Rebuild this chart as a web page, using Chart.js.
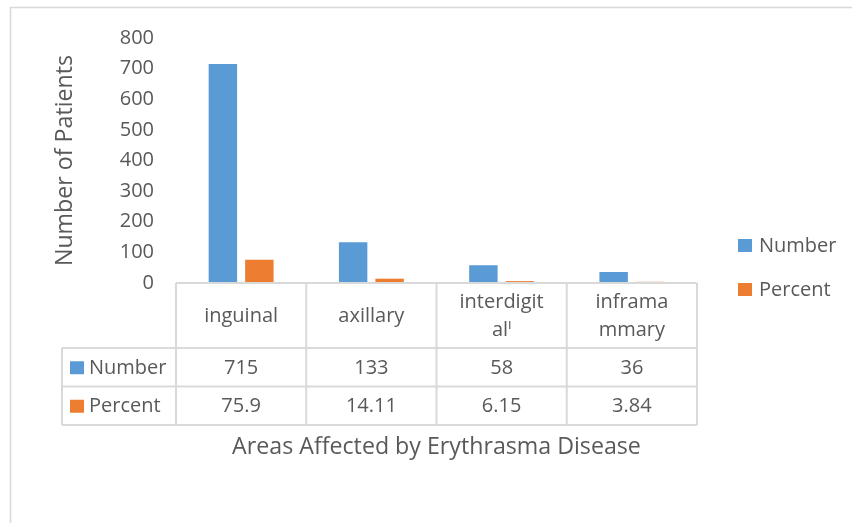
<!DOCTYPE html>
<html>
<head>
<meta charset="utf-8">
<script src="https://cdn.jsdelivr.net/npm/chart.js@4/dist/chart.umd.min.js"></script>
<style>
  html, body { margin: 0; padding: 0; background: #ffffff; }
  #wrap { width: 852px; height: 523px; position: relative; }
</style>
</head>
<body>
<div id="wrap"><canvas id="c"></canvas></div>
<script>
// ---- data ----
const categories = [["inguinal"], ["axillary"], ["interdigit", "al\u02E1"], ["inframa", "mmary"]];
const seriesNames = ["Number", "Percent"];
const numberValues = [715, 133, 58, 36];
const percentValues = [75.9, 14.11, 6.15, 3.84];
const yTicks = { min: 0, max: 800, step: 100 };
const axisTitles = { x: "Areas Affected by Erythrasma Disease", y: "Number of Patients" };

// ---- styles ----
const FONT = "'Open Sans', 'DejaVu Sans', sans-serif";
const TEXT = "#595959";
const LINE = "#d9d9d9";
const colors = ["#5b9bd5", "#ed7d31"];

const tablePlugin = {
  id: 'tablePlugin',
  beforeDraw(chart) {
    const ctx = chart.ctx;
    ctx.save();
    ctx.fillStyle = '#ffffff';
    ctx.fillRect(0, 0, chart.width, chart.height);
    ctx.strokeStyle = LINE;
    ctx.lineWidth = 1.5;
    ctx.strokeRect(10.5, 7.5, chart.width + 20, chart.height + 20);
    ctx.restore();
  },
  afterDraw(chart) {
    const ctx = chart.ctx;
    const area = chart.chartArea;
    const x = chart.scales.x;
    const n = chart.data.labels.length;
    const top = area.bottom;
    const rowTop = top + 65;
    const rowH = 38.5;
    const bottom = rowTop + rowH * 2;
    const leftCol = 62;
    const edges = [];
    for (let i = 0; i <= n; i++) edges.push(area.left + (area.right - area.left) * i / n);

    ctx.save();
    ctx.strokeStyle = LINE;
    ctx.lineWidth = 2;
    ctx.beginPath();
    ctx.moveTo(area.left, top); ctx.lineTo(area.right, top);
    [rowTop, rowTop + rowH, bottom].forEach(yy => { ctx.moveTo(leftCol, yy); ctx.lineTo(area.right, yy); });
    edges.forEach(ex => { ctx.moveTo(ex, top); ctx.lineTo(ex, bottom); });
    ctx.moveTo(leftCol, rowTop); ctx.lineTo(leftCol, bottom);
    ctx.stroke();

    ctx.font = "20px " + FONT;
    ctx.textBaseline = 'middle';
    chart.data.datasets.forEach((ds, di) => {
      const cy = rowTop + rowH * di + rowH / 2 + 1;
      ctx.fillStyle = ds.backgroundColor;
      ctx.fillRect(70, cy - 7, 14, 13);
      ctx.fillStyle = TEXT;
      ctx.textAlign = 'left';
      ctx.fillText(ds.label, 89, cy);
      ctx.textAlign = 'center';
      ds.data.forEach((v, i) => {
        ctx.fillText(String(v), x.getPixelForValue(i), cy);
      });
    });

    // legend on the right
    const lx = area.right + 41;
    const ly = [246, 290];
    chart.data.datasets.forEach((ds, di) => {
      ctx.fillStyle = ds.backgroundColor;
      ctx.fillRect(lx, ly[di] - 7, 14, 13);
      ctx.fillStyle = TEXT;
      ctx.textAlign = 'left';
      ctx.fillText(ds.label, lx + 21, ly[di]);
    });
    ctx.restore();
  }
};

new Chart(document.getElementById('c'), {
  type: 'bar',
  data: {
    labels: categories,
    datasets: [
      { label: seriesNames[0], data: numberValues, backgroundColor: colors[0] },
      { label: seriesNames[1], data: percentValues, backgroundColor: colors[1] }
    ]
  },
  options: {
    responsive: true,
    maintainAspectRatio: false,
    animation: false,
    devicePixelRatio: 1,
    categoryPercentage: 0.56,
    barPercentage: 0.78,
    layout: { padding: { left: 0, right: 155, top: 38, bottom: 62 } },
    plugins: { legend: { display: false }, tooltip: { enabled: false } },
    scales: {
      x: {
        grid: { display: false, drawTicks: false },
        border: { display: false },
        ticks: {
          color: TEXT, font: { family: FONT, size: 20, lineHeight: 1.4 },
          padding: 19, maxRotation: 0, minRotation: 0, autoSkip: false, crossAlign: 'center'
        },
        title: {
          display: true, text: axisTitles.x, color: TEXT,
          font: { family: FONT, size: 23.2, lineHeight: 1.2 }, padding: 0
        },
        afterFit(s) { s.height = 178; }
      },
      y: {
        min: yTicks.min, max: yTicks.max,
        grid: { display: false, drawTicks: false },
        border: { display: false },
        ticks: { stepSize: yTicks.step, color: TEXT, font: { family: FONT, size: 20 }, padding: 22 },
        title: {
          display: true, text: axisTitles.y, color: TEXT,
          font: { family: FONT, size: 23.2, lineHeight: 1.2 }, padding: { top: 51, bottom: 0 }
        },
        afterFit(s) { s.width = 176; }
      }
    }
  },
  plugins: [tablePlugin]
});
</script>
</body>
</html>
